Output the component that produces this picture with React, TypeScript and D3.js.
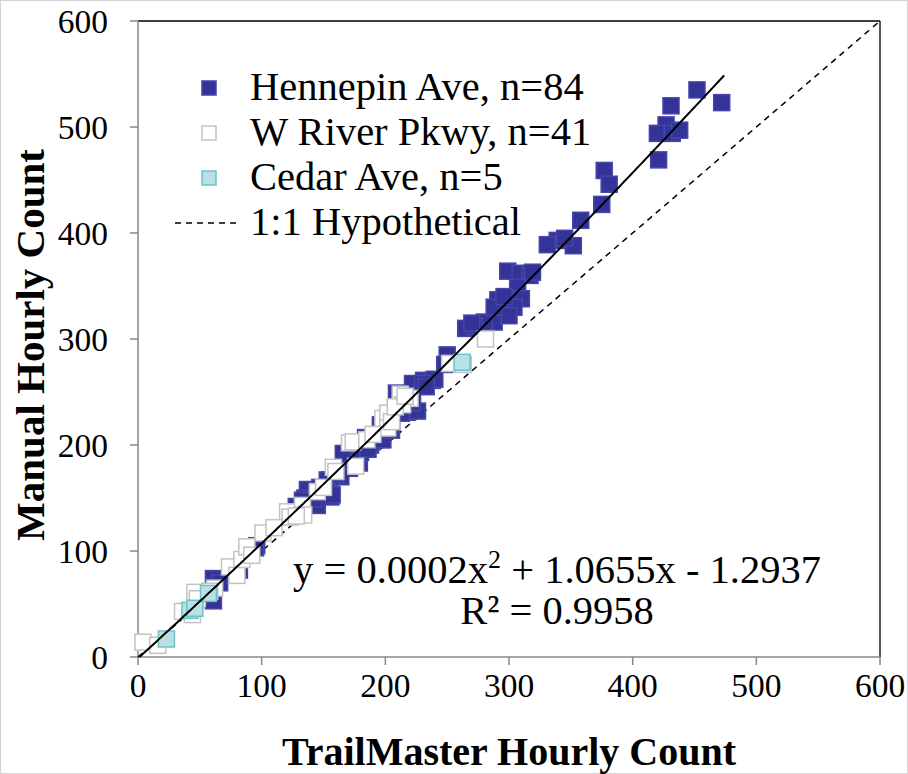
import React from "react";
import * as d3 from "d3";

const hennepin: [number, number][] = [
  [452, 535], [472, 523], [431, 520], [427, 502], [420, 494], [432, 494], [438, 497],
  [421, 469], [377, 459], [381, 446], [375, 427], [358, 412], [339, 393], [331, 389],
  [352, 388], [299, 364], [309, 362], [317, 360], [307, 349], [310, 338], [291, 337],
  [304, 330], [288, 316], [280, 316], [265, 310], [272, 312], [250, 285], [231, 261],
  [238, 261], [222, 258], [218, 231], [209, 249], [196, 219], [184, 207], [189, 203],
  [197, 205], [192, 208], [188, 200], [198, 205], [175, 186], [167, 186], [162, 176],
  [171, 178], [166, 192], [155, 167], [153, 167], [150, 159], [156, 151], [157, 153],
  [137, 158], [135, 150], [145, 143], [128, 142], [96, 105], [95, 103], [82, 82],
  [61, 74], [66, 70], [61, 53], [300, 322], [288, 330], [226, 232], [213, 236],
  [205, 214], [179, 183], [164, 170], [142, 149], [248, 276], [240, 262], [212, 245],
  [230, 258], [319, 363], [345, 395], [233, 255], [180, 193], [205, 222], [160, 172],
  [147, 160], [296, 340], [222, 240], [213, 230], [133, 148], [186, 196], [270, 315],
];

const wRiver: [number, number][] = [
  [4, 14], [16, 11], [36, 43], [44, 40], [46, 61], [48, 55], [62, 65], [74, 85],
  [80, 77], [84, 92], [88, 104], [101, 117], [121, 137], [123, 132], [133, 143],
  [134, 134], [145, 156], [158, 179], [171, 202], [174, 203], [176, 180], [198, 225],
  [202, 230], [202, 216], [205, 222], [212, 248], [220, 244], [214, 238], [252, 277],
  [281, 300], [263, 276], [128, 133], [160, 175], [185, 205], [208, 236], [216, 246],
  [92, 96], [110, 122], [150, 160], [190, 210], [58, 62],
];

const cedar: [number, number][] = [
  [23, 17], [42, 44], [46, 46], [57, 60], [262, 278],
];

const ticks = [0, 100, 200, 300, 400, 500, 600];
const legendLabels = ["Hennepin Ave, n=84", "W River Pkwy, n=41", "Cedar Ave, n=5", "1:1 Hypothetical"];
const fitCoef = { a: 0.0002, b: 1.0655, c: -1.2937 };
const fitRange = [1.2, 474];
const eqText = "y = 0.0002x";
const eqText2 = " + 1.0655x - 1.2937";
const r2Text = "R² = 0.9958";

const FONT = "'Liberation Serif', 'Times New Roman', serif";

export default function App() {
  const W = 908, H = 774;
  const x = d3.scaleLinear().domain([0, 600]).range([138, 880]);
  const y = d3.scaleLinear().domain([0, 600]).range([657, 21]);
  const axisColor = "#878787";
  const ms = 16;

  const fitPts: [number, number][] = d3.range(fitRange[0], fitRange[1], 2).concat([fitRange[1]])
    .map((v) => [v, fitCoef.a * v * v + fitCoef.b * v + fitCoef.c]);
  const line = d3.line<[number, number]>().x((d) => x(d[0])).y((d) => y(d[1]));

  const styles = [
    { fill: "#333399", stroke: "#4646a8" },
    { fill: "#ffffff", stroke: "#c3c3c3" },
    { fill: "#b9e1e4", stroke: "#6cc2ca" },
  ];
  const series = [hennepin, wRiver, cedar];

  return (
    <svg width={W} height={H} style={{ position: "absolute", left: 0, top: 0, background: "#fff" }} fontFamily={FONT}>
      <rect x={0.5} y={0.5} width={W - 1} height={H - 1} fill="#fff" stroke="#d4d4d4" />
      <line x1={x(0)} x2={x(600)} y1={y(600)} y2={y(600)} stroke="#000" strokeWidth={1.3} />
      <line x1={x(600)} x2={x(600)} y1={y(600)} y2={y(0)} stroke="#000" strokeWidth={1.3} />
      <line x1={x(0)} x2={x(0)} y1={y(600)} y2={y(0)} stroke={axisColor} strokeWidth={1.5} />
      <line x1={x(0)} x2={x(600)} y1={y(0)} y2={y(0)} stroke={axisColor} strokeWidth={1.5} />
      {ticks.map((t) => (
        <g key={"yt" + t}>
          <line x1={x(0) - 8} x2={x(0)} y1={y(t)} y2={y(t)} stroke={axisColor} strokeWidth={1.5} />
          <text x={108} y={y(t) + 11.5} fontSize={33.5} textAnchor="end" fill="#000">{t}</text>
        </g>
      ))}
      {ticks.map((t) => (
        <g key={"xt" + t}>
          <line x1={x(t)} x2={x(t)} y1={y(0)} y2={y(0) + 8} stroke={axisColor} strokeWidth={1.5} />
          <text x={x(t)} y={697} fontSize={33.5} textAnchor="middle" fill="#000">{t}</text>
        </g>
      ))}
      <line x1={x(0)} y1={y(0)} x2={x(600)} y2={y(600)} stroke="#000" strokeWidth={1.5} strokeDasharray="6,5" />
      {series.map((s, i) => (
        <g key={"s" + i}>
          {s.map((d, j) => (
            <rect key={j} x={x(d[0]) - ms / 2} y={y(d[1]) - ms / 2} width={ms} height={ms}
              fill={styles[i].fill} stroke={styles[i].stroke} strokeWidth={1.5} />
          ))}
        </g>
      ))}
      <path d={line(fitPts) || ""} fill="none" stroke="#000" strokeWidth={2} />
      {legendLabels.map((lab, i) => (
        <g key={"lg" + i}>
          {i < 3 ? (
            <rect x={209 - 7} y={88 + i * 45 - 7} width={14} height={14}
              fill={styles[i].fill} stroke={styles[i].stroke} strokeWidth={1.5} />
          ) : (
            <line x1={175} x2={236} y1={88 + i * 45} y2={88 + i * 45} stroke="#000" strokeWidth={1.5} strokeDasharray="6,5" />
          )}
          <text x={250} y={100 + i * 45} fontSize={40.5} fill="#000">{lab}</text>
        </g>
      ))}
      <text x={557} y={583} fontSize={40.5} textAnchor="middle" fill="#000">
        {eqText}<tspan fontSize={26} dy={-15}>2</tspan><tspan dy={15}>{eqText2}</tspan>
      </text>
      <text x={557} y={624} fontSize={40.5} textAnchor="middle" fill="#000">{r2Text}</text>
      <text x={509} y={765} fontSize={40} fontWeight="bold" textAnchor="middle" fill="#000">TrailMaster Hourly Count</text>
      <text transform={`translate(44,345) rotate(-90)`} fontSize={41} fontWeight="bold" textAnchor="middle" fill="#000">Manual Hourly Count</text>
    </svg>
  );
}
